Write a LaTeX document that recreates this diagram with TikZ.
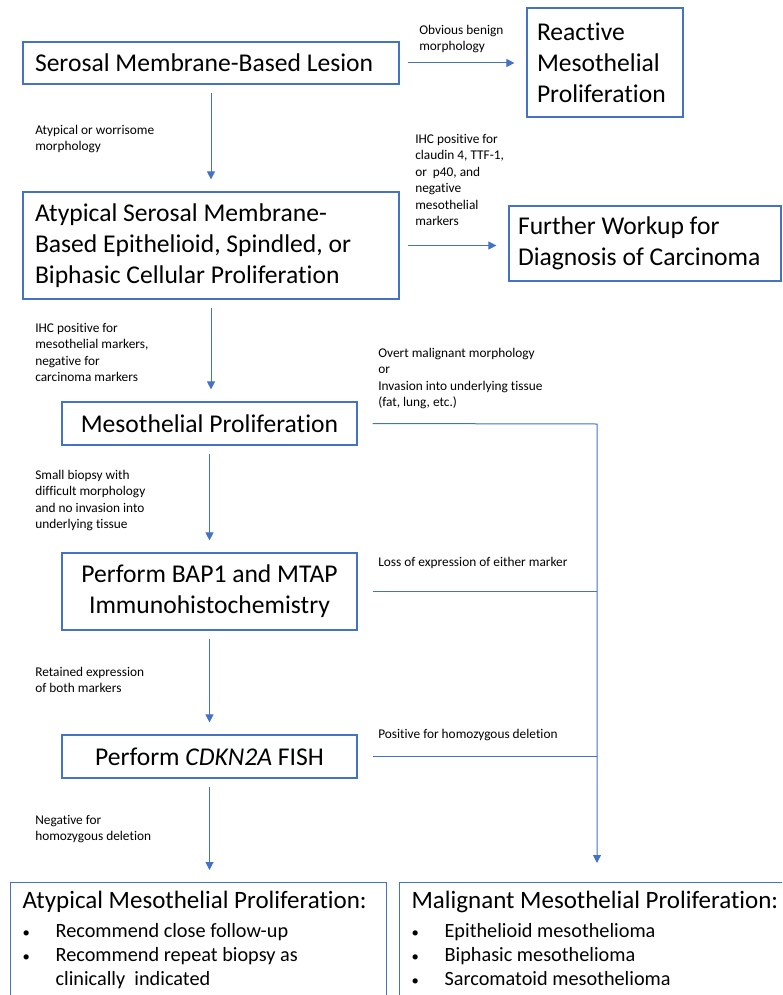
\documentclass[tikz,border=0pt]{standalone}
\usepackage{fontspec}
\setmainfont{Carlito}[Ligatures=NoCommon]
\usetikzlibrary{arrows.meta, positioning}
\definecolor{boxblue}{RGB}{68, 114, 196}
\newlength{\unitpx}
\setlength{\unitpx}{0.75pt}
\newcommand{\bul}{\makebox[24.75pt][l]{\fontsize{11}{11}\selectfont\textbullet}}

\begin{document}
\begin{tikzpicture}[x=0.75pt, y=-0.75pt,
  stepbox/.style={draw=boxblue, line width=0.9pt, inner xsep=12\unitpx, inner ysep=0pt, align=flush left, font=\fontsize{19.2}{23.25}\selectfont},
  endbox/.style={draw=boxblue, line width=0.9pt, anchor=north west, inner xsep=12\unitpx, inner ysep=9\unitpx, align=flush left, text depth=100pt, font=\fontsize{15.2}{18}\selectfont},
  note/.style={anchor=north west, inner sep=0pt, align=left, font=\fontsize{10}{12.3}\selectfont},
  flow/.style={draw=boxblue, line width=0.75pt, -{Triangle[length=6pt, width=6pt]}, shorten <=6pt, shorten >=9pt}
]
  \clip (0,0) rectangle (782,995);

  % main column
  \node[stepbox, text width=352\unitpx, minimum height=42\unitpx] (lesion) at (211,63) {Serosal Membrane-Based Lesion};
  \node[stepbox, text width=352\unitpx, minimum height=107\unitpx] (atypical) at (211,245.5) {Atypical Serosal Membrane-\\Based Epithelioid, Spindled, or\\Biphasic Cellular Proliferation};
  \node[stepbox, align=flush center, text width=271\unitpx, minimum height=43\unitpx] (meso) at (209.5,423.5) {Mesothelial Proliferation};
  \node[stepbox, align=flush center, text width=271\unitpx, minimum height=77\unitpx] (ihc) at (209.5,591.5) {Perform BAP1 and MTAP\\Immunohistochemistry};
  \node[stepbox, align=flush center, text width=271\unitpx, minimum height=43\unitpx] (fish) at (209.5,756.5) {Perform \textit{CDKN2A} FISH};

  % side results
  \node[stepbox, text width=136\unitpx, inner xsep=10\unitpx, minimum height=109\unitpx] (reactive) at (605,62.5) {Reactive\\Mesothelial\\Proliferation};
  \node[stepbox, text width=254\unitpx, inner xsep=9\unitpx, minimum height=75\unitpx] (workup) at (645,243.5) {Further Workup for\\Diagnosis of Carcinoma};

  % final boxes
  \node[endbox, text width=352\unitpx] (amp) at (10,882) {{\fontsize{18.75}{22.5}\selectfont Atypical Mesothelial Proliferation:}\\[3.75pt]
    \bul Recommend close follow-up\\
    \bul Recommend repeat biopsy as\\
    \hspace*{24.75pt}clinically\ \ indicated};
  \node[endbox, text width=400\unitpx] (mmp) at (399,882) {{\fontsize{18.75}{22.5}\selectfont Malignant Mesothelial Proliferation:}\\[3.75pt]
    \bul Epithelioid mesothelioma\\
    \bul Biphasic mesothelioma\\
    \bul Sarcomatoid mesothelioma};

  % connector labels
  \node[note] (obvlbl) at (419,25) {Obvious benign\\morphology};
  \node[note] (atyplbl) at (35,125) {Atypical or worrisome\\morphology};
  \node[note] (carclbl) at (415,134) {IHC positive for\\claudin 4, TTF-1,\\or\ \ p40, and\\negative\\mesothelial\\markers};
  \node[note] (mesolbl) at (35,323) {IHC positive for\\mesothelial markers,\\negative for\\carcinoma markers};
  \node[note] (overtlbl) at (378,348) {Overt malignant morphology\\or\\Invasion into underlying tissue\\(fat, lung, etc.)};
  \node[note] (biopsylbl) at (35,470) {Small biopsy with\\difficult morphology\\and no invasion into\\underlying tissue};
  \node[note] (losslbl) at (378,557) {Loss of expression of either marker};
  \node[note] (retainlbl) at (35,667) {Retained expression\\of both markers};
  \node[note] (poslbl) at (378,729) {Positive for homozygous deletion};
  \node[note] (neglbl) at (35,815) {Negative for\\homozygous deletion};

  % connectors
  \draw[flow] (lesion.east) -- (lesion.east -| reactive.west);
  \draw[flow] (atypical.east) -- (atypical.east -| workup.west);
  \draw[flow] (lesion.south) -- (atypical.north);
  \draw[flow] (atypical.south) -- (atypical.south |- meso.north);
  \draw[flow] (meso.south) -- (meso.south |- ihc.north);
  \draw[flow] (ihc.south) -- (fish.north);
  \draw[flow] (fish.south) -- (fish.south |- amp.north);

  \coordinate (trunk) at (597,424);
  \draw[flow, shorten <=11.25pt, shorten >=14.25pt] (meso.east) -- (trunk) -- (trunk |- mmp.north);
  \draw[flow, -, shorten <=11.25pt, shorten >=0pt] (ihc.east) -- (ihc.east -| trunk);
  \draw[flow, -, shorten <=11.25pt, shorten >=0pt] (fish.east) -- (fish.east -| trunk);
\end{tikzpicture}
\end{document}
